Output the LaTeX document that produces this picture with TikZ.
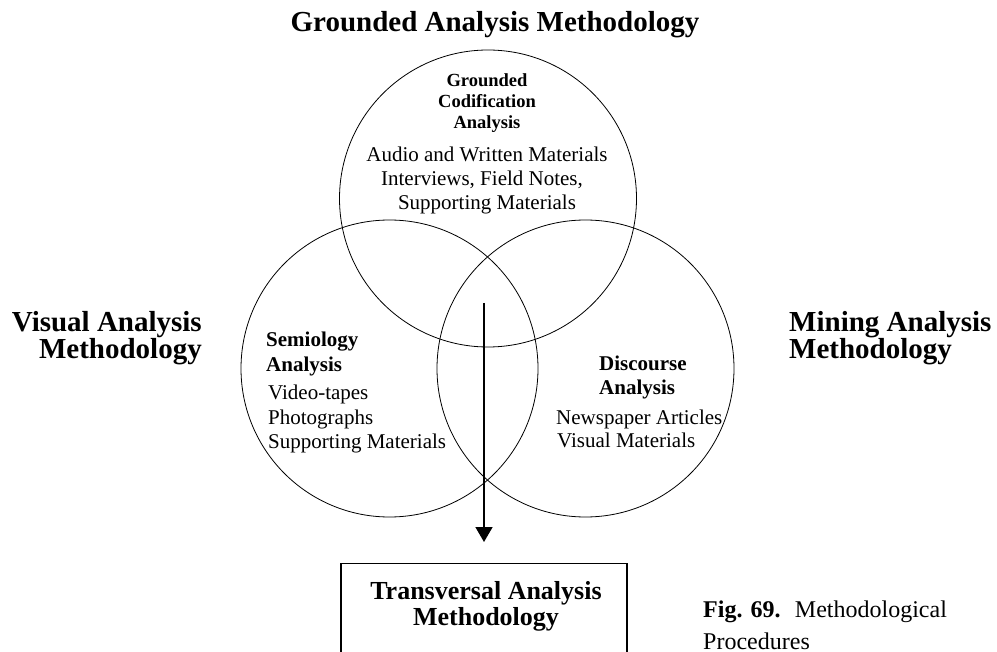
\documentclass[tikz,border=0pt]{standalone}
\usepackage{fontspec}
\setmainfont{Liberation Serif}
\usetikzlibrary{arrows.meta}

\begin{document}
\begin{tikzpicture}[x=1pt,y=-1pt,
  ring/.style={circle, draw, line width=0.8pt, minimum size=297pt, inner sep=0pt},
  bighead/.style={inner sep=0pt, font=\fontsize{29}{34}\selectfont\bfseries},
  tophead/.style={inner sep=0pt, anchor=base, font=\fontsize{18.5}{21}\selectfont\bfseries},
  sidehead/.style={inner sep=0pt, anchor=base west, font=\fontsize{21}{25}\selectfont\bfseries},
  body/.style={inner sep=0pt, font=\fontsize{21}{25}\selectfont},
  boxhead/.style={inner sep=0pt, anchor=base, font=\fontsize{26}{30}\selectfont\bfseries},
  caption/.style={inner sep=0pt, anchor=base west, font=\fontsize{24}{28}\selectfont},
  flow/.style={line width=1.6pt, -{Triangle[width=17pt,length=15pt]}}
]
\useasboundingbox (0,0) rectangle (997,652);

% title
\node[bighead, anchor=base] (title) at (495,32) {Grounded Analysis Methodology};

% the three overlapping circles
\node[ring] (cTop)   at (488,198.5) {};
\node[ring] (cLeft)  at (389.5,368.5) {};
\node[ring] (cRight) at (585.5,368.5) {};

% top circle text
\node[tophead] (g1) at (487,87)  {Grounded};
\node[tophead] (g2) at (487,108) {Codification};
\node[tophead] (g3) at (487,129) {Analysis};
\node[body, anchor=base] (g4) at (487,162) {Audio and Written Materials};
\node[body, anchor=base] (g5) at (482,186) {Interviews, Field Notes,};
\node[body, anchor=base] (g6) at (487,210) {Supporting Materials};

% left circle text
\node[sidehead] (s1) at (266,347) {Semiology};
\node[sidehead] (s2) at (266,372) {Analysis};
\node[body, anchor=base west] (s3) at (268,400) {Video-tapes};
\node[body, anchor=base west] (s4) at (268,425) {Photographs};
\node[body, anchor=base west] (s5) at (268,449) {Supporting Materials};

% right circle text
\node[sidehead] (d1) at (599,371) {Discourse};
\node[sidehead] (d2) at (599,395) {Analysis};
\node[body, anchor=base west] (d3) at (556,425) {Newspaper Articles};
\node[body, anchor=base west] (d4) at (557,448) {Visual Materials};

% side labels
\node[bighead, anchor=base east] (v1) at (202,332) {Visual Analysis};
\node[bighead, anchor=base east] (v2) at (202,359) {Methodology};
\node[bighead, anchor=base west] (m1) at (789,332) {Mining Analysis};
\node[bighead, anchor=base west] (m2) at (789,359) {Methodology};

% result box
\node[draw, line width=1.2pt, minimum width=286pt, minimum height=110pt, anchor=north] (box) at (484,563) {};
\node[boxhead] (t1) at (486,599) {Transversal Analysis};
\node[boxhead] (t2) at (486,625) {Methodology};

% arrow into the box
\coordinate (src) at (484,303);
\draw[flow, shorten >=21pt] (src) -- (src |- box.north);

% caption
\node[caption] (cap1) at (703,617) {\textbf{Fig. 69.}\hspace{0.6em}Methodological};
\node[caption] (cap2) at (703,649) {Procedures};
\end{tikzpicture}
\end{document}
